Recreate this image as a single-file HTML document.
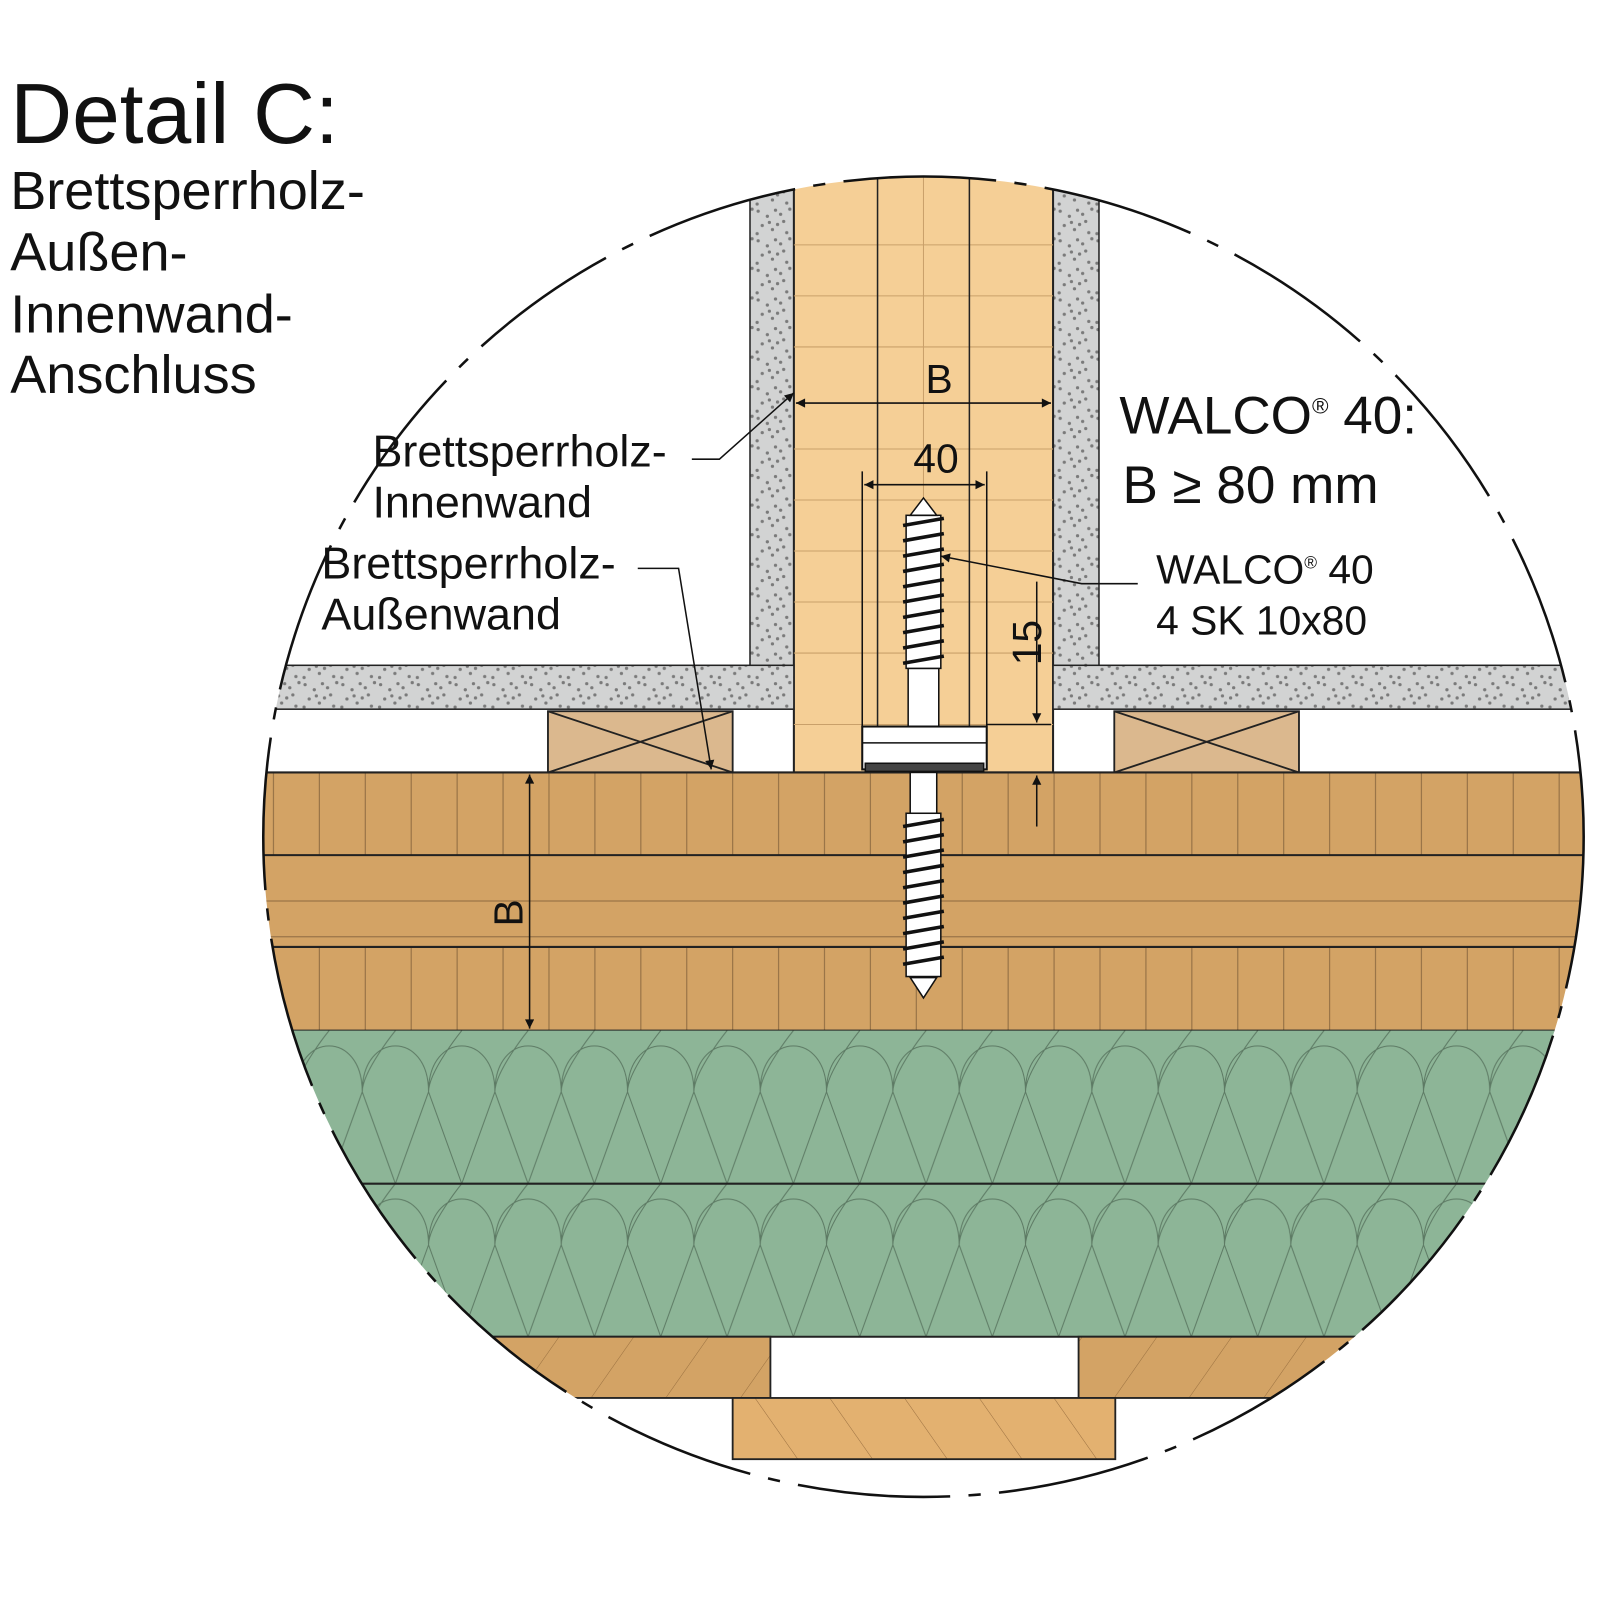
<!DOCTYPE html>
<html><head><meta charset="utf-8"><style>
html,body{margin:0;padding:0;background:#fff;}
svg{display:block;}
text{font-family:"Liberation Sans",sans-serif;fill:#111;}
</style></head><body>
<svg width="1600" height="1600" viewBox="0 0 1568 1568" xmlns="http://www.w3.org/2000/svg">
<defs>
<clipPath id="circ"><circle cx="905" cy="820" r="647"/></clipPath>
<pattern id="dots" width="37" height="29" patternUnits="userSpaceOnUse">
<rect width="37" height="29" fill="#d2d3d3"/>
<g fill="#7a7a7a">
<circle cx="3" cy="4" r="1.6"/><circle cx="12" cy="9" r="1.6"/><circle cx="20" cy="3" r="1.6"/><circle cx="28" cy="14" r="1.6"/><circle cx="7" cy="18" r="1.6"/><circle cx="17" cy="22" r="1.6"/><circle cx="31" cy="25" r="1.6"/><circle cx="25" cy="7" r="1.6"/><circle cx="2" cy="26" r="1.6"/><circle cx="14" cy="15" r="1.6"/><circle cx="34" cy="2" r="1.6"/><circle cx="22" cy="17" r="1.6"/>
</g></pattern>
<pattern id="ins" x="290" y="1010" width="65" height="150" patternUnits="userSpaceOnUse">
<rect width="65" height="150" fill="#8db597"/>
<path d="M0,60 C0,0 65,0 65,60 M0,60 L32.5,150 M65,60 L32.5,150 M32.5,0 C32.5,0 0,40 0,60" fill="none" stroke="#5d7a64" stroke-width="1"/>
</pattern>
<pattern id="hatchA" width="60" height="60" patternUnits="userSpaceOnUse" patternTransform="rotate(35)">
<rect width="60" height="60" fill="#d3a365"/><line x1="0" y1="0" x2="0" y2="60" stroke="#9a7040" stroke-width="1"/></pattern>
<pattern id="hatchB" width="60" height="60" patternUnits="userSpaceOnUse" patternTransform="rotate(-35)">
<rect width="60" height="60" fill="#e3b170"/><line x1="0" y1="0" x2="0" y2="60" stroke="#9a7040" stroke-width="1"/></pattern>
<marker id="ar" viewBox="0 0 10 10" refX="10" refY="5" markerWidth="14" markerHeight="7" markerUnits="userSpaceOnUse" orient="auto-start-reverse"><path d="M0,0 L10,5 L0,10 z" fill="#111"/></marker>
<marker id="arB" viewBox="0 0 10 10" refX="10" refY="5" markerWidth="26" markerHeight="9" markerUnits="userSpaceOnUse" orient="auto-start-reverse"><path d="M0,0 L10,5 L0,10 z" fill="#111"/></marker>
</defs>

<g clip-path="url(#circ)">
<rect x="735" y="170" width="43" height="490" fill="url(#dots)" stroke="#222" stroke-width="1.5"/>
<rect x="1032" y="170" width="45" height="490" fill="url(#dots)" stroke="#222" stroke-width="1.5"/>
<rect x="778" y="170" width="254" height="587" fill="#f5cf96" stroke="#222" stroke-width="2"/>
<g stroke="#c9a06a" stroke-width="1">
<line x1="778" y1="240" x2="1032" y2="240"/><line x1="778" y1="290" x2="1032" y2="290"/><line x1="778" y1="340" x2="1032" y2="340"/><line x1="778" y1="440" x2="1032" y2="440"/><line x1="778" y1="490" x2="1032" y2="490"/><line x1="778" y1="540" x2="1032" y2="540"/><line x1="778" y1="590" x2="1032" y2="590"/><line x1="778" y1="640" x2="1032" y2="640"/><line x1="778" y1="710" x2="1032" y2="710"/>
<line x1="905" y1="170" x2="905" y2="757"/>
</g>
<line x1="860" y1="170" x2="860" y2="757" stroke="#222" stroke-width="1.5"/>
<line x1="950" y1="170" x2="950" y2="757" stroke="#222" stroke-width="1.5"/>
<rect x="200" y="652" width="578" height="43" fill="url(#dots)" stroke="#222" stroke-width="1.5"/>
<rect x="1032" y="652" width="600" height="43" fill="url(#dots)" stroke="#222" stroke-width="1.5"/>
<g stroke="#222" stroke-width="1.8">
<rect x="537" y="697" width="181" height="60" fill="#dbb88e"/>
<path d="M537,697 L718,757 M537,757 L718,697"/>
<rect x="1092" y="697" width="181" height="60" fill="#dbb88e"/>
<path d="M1092,697 L1273,757 M1092,757 L1273,697"/>
</g>
<rect x="200" y="757" width="1500" height="253" fill="#d3a365"/>
<g stroke="#9a7548" stroke-width="1.2">
<path d="M268,757V838M313,757V838M358,757V838M403,757V838M448,757V838M493,757V838M538,757V838M583,757V838M628,757V838M673,757V838M718,757V838M763,757V838M808,757V838M853,757V838M898,757V838M943,757V838M988,757V838M1033,757V838M1078,757V838M1123,757V838M1168,757V838M1213,757V838M1258,757V838M1303,757V838M1348,757V838M1393,757V838M1438,757V838M1483,757V838M1528,757V838"/>
<path d="M268,928V1010M313,928V1010M358,928V1010M403,928V1010M448,928V1010M493,928V1010M538,928V1010M583,928V1010M628,928V1010M673,928V1010M718,928V1010M763,928V1010M808,928V1010M853,928V1010M898,928V1010M943,928V1010M988,928V1010M1033,928V1010M1078,928V1010M1123,928V1010M1168,928V1010M1213,928V1010M1258,928V1010M1303,928V1010M1348,928V1010M1393,928V1010M1438,928V1010M1483,928V1010M1528,928V1010"/>
<path d="M200,883H1700M200,918H1700"/>
</g>
<g stroke="#222" stroke-width="2"><path d="M200,757H1700M200,838H1700M200,928H1700M200,1010H1700"/></g>
<rect x="200" y="1010" width="1500" height="300" fill="url(#ins)"/>
<path d="M200,1160H1700M200,1310H1700" stroke="#222" stroke-width="2"/>
<rect x="200" y="1310" width="555" height="60" fill="url(#hatchA)" stroke="#222" stroke-width="1.8"/>
<rect x="1057" y="1310" width="600" height="60" fill="url(#hatchA)" stroke="#222" stroke-width="1.8"/>
</g>
<rect x="718" y="1370" width="375" height="60" fill="url(#hatchB)" stroke="#222" stroke-width="1.8"/>

<circle cx="905" cy="820" r="647" fill="none" stroke="#111" stroke-width="2.5" stroke-dasharray="150 18 12 18"/>

<g stroke="#111" stroke-width="1.5">
<rect x="890" y="655" width="30" height="57" fill="#fff"/>
<rect x="892" y="757" width="26" height="40" fill="#fff"/>
<rect x="888" y="505" width="34" height="150" fill="#fff"/>
<rect x="888" y="797" width="34" height="160" fill="#fff"/>
<path d="M905,488 L918,505 H892 Z" fill="#fff"/>
<path d="M905,978 L918,958 H892 Z" fill="#fff"/>
<g fill="none" stroke-width="3.5">
<path d="M885,515 L925,508 M885,530 L925,523 M885,545 L925,538 M885,560 L925,553 M885,575 L925,568 M885,590 L925,583 M885,605 L925,598 M885,620 L925,613 M885,635 L925,628 M885,650 L925,643"/>
<path d="M885,810 L925,803 M885,825 L925,818 M885,840 L925,833 M885,855 L925,848 M885,870 L925,863 M885,885 L925,878 M885,900 L925,893 M885,915 L925,908 M885,930 L925,923 M885,945 L925,938"/>
</g>
<rect x="845" y="712" width="122" height="42" fill="#fff" stroke-width="2"/>
<line x1="845" y1="728" x2="967" y2="728"/>
<rect x="848" y="748" width="116" height="8" fill="#444"/>
</g>

<g stroke="#111" stroke-width="1.5" fill="none">
<line x1="780" y1="395" x2="1030" y2="395" marker-start="url(#arB)" marker-end="url(#arB)"/>
<line x1="845" y1="462" x2="845" y2="712"/><line x1="967" y1="462" x2="967" y2="712"/>
<line x1="847" y1="475" x2="965" y2="475" marker-start="url(#arB)" marker-end="url(#arB)"/>
<line x1="967" y1="710" x2="1030" y2="710"/>
<line x1="1016" y1="570" x2="1016" y2="708" marker-end="url(#arB)"/>
<line x1="1016" y1="810" x2="1016" y2="760" marker-end="url(#arB)"/>
<line x1="519" y1="759" x2="519" y2="1008" marker-start="url(#arB)" marker-end="url(#arB)"/>
<polyline points="678,450 705,450 778,385" marker-end="url(#arB)"/>
<polyline points="625,557 665,557 697,754" marker-end="url(#arB)"/>
<polyline points="1115,572 1060,572 922,545" marker-end="url(#arB)"/>
</g>

<text x="10" y="140" font-size="84">Detail C:</text>
<text x="10" y="205" font-size="53">Brettsperrholz-</text>
<text x="10" y="265" font-size="53">Außen-</text>
<text x="10" y="326" font-size="53">Innenwand-</text>
<text x="10" y="385" font-size="53">Anschluss</text>
<text x="365" y="457" font-size="44">Brettsperrholz-</text>
<text x="365" y="507" font-size="44">Innenwand</text>
<text x="315" y="567" font-size="44">Brettsperrholz-</text>
<text x="315" y="617" font-size="44">Außenwand</text>
<text x="907" y="385" font-size="40">B</text>
<text x="895" y="463" font-size="40">40</text>
<text x="1097" y="425" font-size="52">WALCO<tspan font-size="22" dy="-20">®</tspan><tspan dy="20"> 40:</tspan></text>
<text x="1100" y="493" font-size="52">B ≥ 80 mm</text>
<text x="1133" y="572" font-size="40">WALCO<tspan font-size="17" dy="-15">®</tspan><tspan dy="15"> 40</tspan></text>
<text x="1133" y="622" font-size="40">4 SK 10x80</text>
<text transform="translate(1020,652) rotate(-90)" font-size="40">15</text>
<text transform="translate(512,908) rotate(-90)" font-size="40">B</text>
</svg>
</body></html>
